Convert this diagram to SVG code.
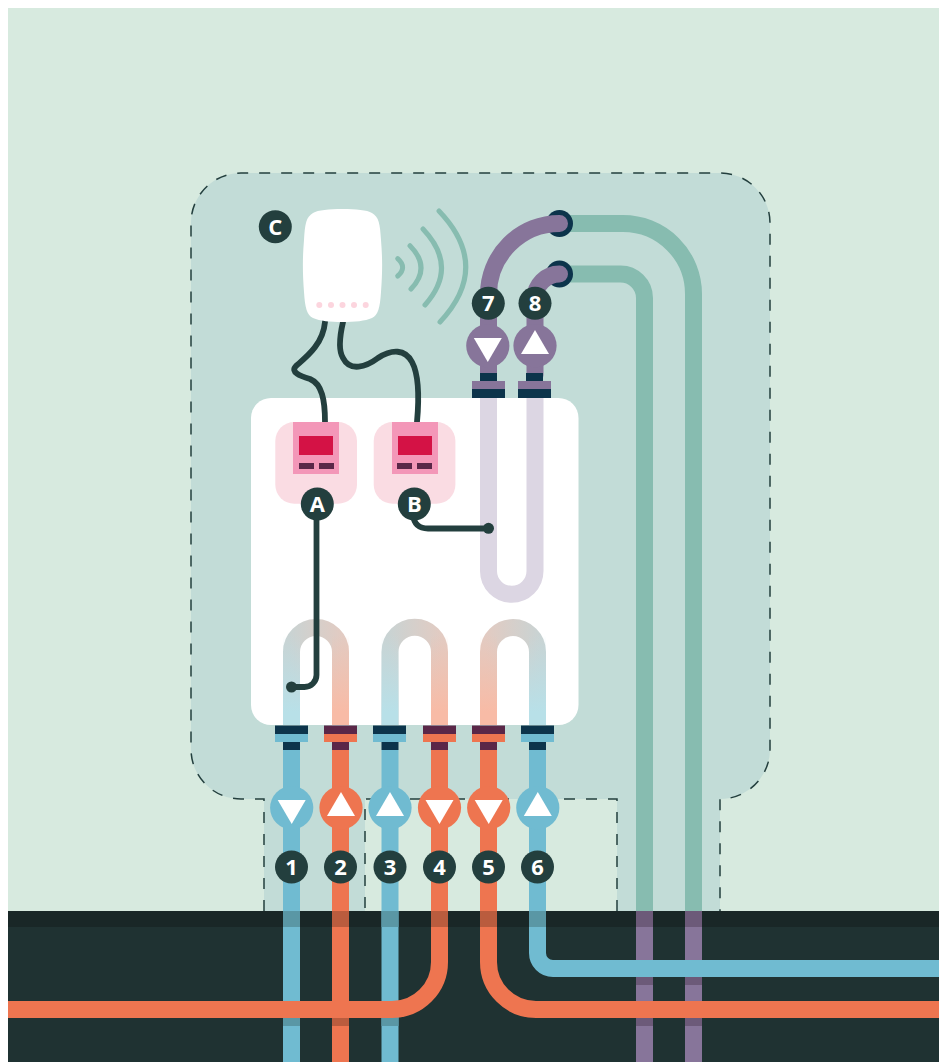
<svg xmlns="http://www.w3.org/2000/svg" width="939" height="1062" viewBox="0 0 939 1062">
<style>
.p{fill:none;stroke-width:17}
.blue{stroke:#70bbd1}.org{stroke:#ee7550}.pur{stroke:#87759a}.grn{stroke:#87bcb0}
.fb{fill:#70bbd1}.fo{fill:#ee7550}.fp{fill:#87759a}
.nb{fill:#0c344b}.no{fill:#5a2748}
.tri{fill:#fff}
.bd{fill:#233f3e}
.bt{fill:#fff;font-family:"Open Sans","Noto Sans",sans-serif;font-weight:700;font-size:22px;text-anchor:middle}
.wire{fill:none;stroke:#233f3e;stroke-width:5.800;stroke-linecap:round}
.wave{fill:none;stroke:#87bcb0;stroke-width:5;stroke-linecap:round}
.s1{fill:#fadce3}.s2{fill:#f397b8}.s3{fill:#d41245}
</style>
<defs>
<linearGradient id="fb" gradientUnits="userSpaceOnUse" x1="0" y1="725" x2="0" y2="635"><stop offset="0.15" stop-color="#b8e0e8"/><stop offset="1" stop-color="#b8e0e8" stop-opacity="0"/></linearGradient>
<linearGradient id="fo" gradientUnits="userSpaceOnUse" x1="0" y1="725" x2="0" y2="635"><stop offset="0.15" stop-color="#f8bba6"/><stop offset="1" stop-color="#f8bba6" stop-opacity="0"/></linearGradient>
<linearGradient id="u1" gradientUnits="userSpaceOnUse" x1="283" y1="0" x2="349" y2="0"><stop offset="0.1" stop-color="#c9d3d3"/><stop offset="0.9" stop-color="#e2cbc2"/></linearGradient>
<linearGradient id="u2" gradientUnits="userSpaceOnUse" x1="381.500" y1="0" x2="448" y2="0"><stop offset="0.1" stop-color="#c9d3d3"/><stop offset="0.9" stop-color="#e2cbc2"/></linearGradient>
<linearGradient id="u3" gradientUnits="userSpaceOnUse" x1="480" y1="0" x2="546" y2="0"><stop offset="0.1" stop-color="#e2cbc2"/><stop offset="0.9" stop-color="#c9d3d3"/></linearGradient>
</defs>

<g id="background">
<rect x="8" y="8" width="931" height="903" fill="#d7eadf"/>
<path d="M264 911V799H241A50 50 0 0 1 191 749V223A50 50 0 0 1 241 173H720A50 50 0 0 1 770 223V749A50 50 0 0 1 720 799V911H617V799H365V911Z" fill="#c2dcd7"/>
<path d="M264 911V799H241A50 50 0 0 1 191 749V223A50 50 0 0 1 241 173H720A50 50 0 0 1 770 223V749A50 50 0 0 1 720 799V911M617 911V799H365V911" fill="none" stroke="#233f3e" stroke-width="1.500" stroke-dasharray="11 11"/>
<rect x="8" y="911" width="931" height="151" fill="#1f3232"/>
<rect x="8" y="911" width="931" height="16" fill="#192727"/>
<rect x="251" y="398" width="327.500" height="327" rx="20" fill="#fff"/>
</g>

<g id="connectors">
<path class="p grn" d="M559 223.500H623A70.500 70.500 0 0 1 693.500 294V911"/>
<path class="p grn" d="M559 274H620A24 24 0 0 1 644.500 298V911"/>
<g id="ground-vertical">
<path class="p pur" d="M644.500 911V1062M693.500 911V1062"/>
<path class="p blue" d="M291.500 750V1062M390 750V1062"/>
<path class="p org" d="M340.500 750V1062"/>
<g fill="#6c5a79"><rect x="636" y="911" width="17" height="16"/><rect x="685" y="911" width="17" height="16"/><rect x="636" y="976" width="17" height="9"/><rect x="685" y="976" width="17" height="9"/><rect x="636" y="1017" width="17" height="9"/><rect x="685" y="1017" width="17" height="9"/></g>
<g fill="#5a97a5"><rect x="283" y="911" width="17" height="16"/><rect x="381.500" y="911" width="17" height="16"/><rect x="283" y="1017" width="17" height="9"/><rect x="381.500" y="1017" width="17" height="9"/></g>
<g fill="#ba5c3e"><rect x="332" y="911" width="17" height="16"/><rect x="332" y="1017" width="17" height="9"/></g>
</g>
<path class="p blue" d="M537.500 750V911M537.500 927V953A15.500 15.500 0 0 0 553 968.500H939"/>
<path class="p org" d="M439.500 750V911M439.500 927V962A47.500 47.500 0 0 1 392 1009.500H8"/>
<path class="p org" d="M488.500 750V911M488.500 927V962A47.500 47.500 0 0 0 536 1009.500H939"/>
<rect x="529" y="911" width="17" height="16" fill="#5a97a5"/>
<rect x="431" y="911" width="17" height="16" fill="#ba5c3e"/>
<rect x="480" y="911" width="17" height="16" fill="#ba5c3e"/>

<g id="coils">
<path class="p" stroke="url(#u1)" d="M291.500 725V652A24.500 24.500 0 0 1 340.500 652V725"/>
<path class="p" stroke="url(#fb)" d="M291.500 725V636"/>
<path class="p" stroke="url(#fo)" d="M340.500 725V636"/>
<path class="p" stroke="url(#u2)" d="M390 725V652A24.750 24.750 0 0 1 439.500 652V725"/>
<path class="p" stroke="url(#fb)" d="M390 725V636"/>
<path class="p" stroke="url(#fo)" d="M439.500 725V636"/>
<path class="p" stroke="url(#u3)" d="M488.500 725V652A24.500 24.500 0 0 1 537.500 652V725"/>
<path class="p" stroke="url(#fo)" d="M488.500 725V636"/>
<path class="p" stroke="url(#fb)" d="M537.500 725V636"/>
<path class="p" stroke="#dcd6e3" d="M488.500 398V571A23.250 23.250 0 0 0 535 571V398"/>
</g>

<circle cx="559.500" cy="223.500" r="13.500" class="nb"/>
<circle cx="559.500" cy="274" r="13.500" class="nb"/>
<path class="p pur" stroke-linecap="round" d="M559.500 223.500A71 71 0 0 0 488.500 294.500V375"/>
<path class="p pur" stroke-linecap="round" d="M559.500 274A24.500 24.500 0 0 0 535 298.500V375"/>

<path class="wire" d="M325 322C323 345 305 358 296 366C290 372 300 376 310 379C322 384 325 400 325 422"/>
<path class="wire" d="M343 322C340 335 338 350 343 358C350 372 366 367 378 358C392 349 405 349 412 362C419 375 419 400 417 422"/>
<path class="wire" d="M316.500 504V675A12 12 0 0 1 304.500 687H291.500"/>
<path class="wire" d="M413 515C414 524 419 528.500 428 528.500H488.500"/>
<circle cx="291.500" cy="687" r="5.500" class="bd"/>
<circle cx="488.500" cy="528.300" r="5.500" class="bd"/>
</g>

<g id="node-1">
<rect x="283" y="742" width="17" height="8" class="nb"/><rect x="275" y="725.500" width="33" height="8.500" class="nb"/><rect x="275" y="734" width="33" height="8" class="fb"/>
<circle cx="291.700" cy="807.700" r="21.600" class="fb"/><path class="tri" d="M277.700 800H305.700L291.700 824Z"/>
<circle cx="291.500" cy="867" r="16.500" class="bd"/><text x="291.500" y="874.800" class="bt">1</text>
</g>
<g id="node-2">
<rect x="332" y="742" width="17" height="8" class="no"/><rect x="324" y="725.500" width="33" height="8.500" class="no"/><rect x="324" y="734" width="33" height="8" class="fo"/>
<circle cx="341" cy="807.700" r="21.600" class="fo"/><path class="tri" d="M327 816H355L341 792Z"/>
<circle cx="340.500" cy="867" r="16.500" class="bd"/><text x="340.500" y="874.800" class="bt">2</text>
</g>
<g id="node-3">
<rect x="381.500" y="742" width="17" height="8" class="nb"/><rect x="373" y="725.500" width="33" height="8.500" class="nb"/><rect x="373" y="734" width="33" height="8" class="fb"/>
<circle cx="390" cy="807.700" r="21.600" class="fb"/><path class="tri" d="M376 816H404L390 792Z"/>
<circle cx="390" cy="867" r="16.500" class="bd"/><text x="390" y="874.800" class="bt">3</text>
</g>
<g id="node-4">
<rect x="431" y="742" width="17" height="8" class="no"/><rect x="423" y="725.500" width="33" height="8.500" class="no"/><rect x="423" y="734" width="33" height="8" class="fo"/>
<circle cx="439.500" cy="807.700" r="21.600" class="fo"/><path class="tri" d="M425.500 800H453.500L439.500 824Z"/>
<circle cx="439.500" cy="867" r="16.500" class="bd"/><text x="439.500" y="874.800" class="bt">4</text>
</g>
<g id="node-5">
<rect x="480" y="742" width="17" height="8" class="no"/><rect x="472" y="725.500" width="33" height="8.500" class="no"/><rect x="472" y="734" width="33" height="8" class="fo"/>
<circle cx="488.700" cy="807.700" r="21.600" class="fo"/><path class="tri" d="M474.700 800H502.700L488.700 824Z"/>
<circle cx="488.500" cy="867" r="16.500" class="bd"/><text x="488.500" y="874.800" class="bt">5</text>
</g>
<g id="node-6">
<rect x="529" y="742" width="17" height="8" class="nb"/><rect x="521" y="725.500" width="33" height="8.500" class="nb"/><rect x="521" y="734" width="33" height="8" class="fb"/>
<circle cx="537.800" cy="807.700" r="21.600" class="fb"/><path class="tri" d="M523.800 816H551.800L537.800 792Z"/>
<circle cx="537.500" cy="867" r="16.500" class="bd"/><text x="537.500" y="874.800" class="bt">6</text>
</g>
<g id="node-7">
<rect x="480" y="373" width="17" height="8" class="nb"/><rect x="472" y="381" width="33" height="8" class="fp"/><rect x="472" y="389" width="33" height="9" class="nb"/>
<circle cx="487.800" cy="345.700" r="21.600" class="fp"/><path class="tri" d="M473.800 338H501.800L487.800 362Z"/>
<circle cx="488.300" cy="303.300" r="16.500" class="bd"/><text x="488.300" y="311.100" class="bt">7</text>
</g>
<g id="node-8">
<rect x="526" y="373" width="17" height="8" class="nb"/><rect x="518" y="381" width="33" height="8" class="fp"/><rect x="518" y="389" width="33" height="9" class="nb"/>
<circle cx="535" cy="345.700" r="21.600" class="fp"/><path class="tri" d="M521 354H549L535 330Z"/>
<circle cx="535" cy="303.300" r="16.500" class="bd"/><text x="535" y="311.100" class="bt">8</text>
</g>

<g id="node-A">
<rect x="275.300" y="422" width="81.700" height="81.700" rx="19" class="s1"/>
<rect x="293" y="422" width="46" height="52" class="s2"/><rect x="299" y="436" width="34" height="19" class="s3"/>
<rect x="299" y="463" width="15" height="6" class="no"/><rect x="319" y="463" width="15" height="6" class="no"/>
<circle cx="317.300" cy="504" r="16.500" class="bd"/><text x="317.300" y="511.800" class="bt">A</text>
</g>
<g id="node-B">
<rect x="373.700" y="422" width="81.700" height="81.700" rx="19" class="s1"/>
<rect x="392" y="422" width="46" height="52" class="s2"/><rect x="398" y="436" width="34" height="19" class="s3"/>
<rect x="397" y="463" width="15" height="6" class="no"/><rect x="417" y="463" width="15" height="6" class="no"/>
<circle cx="414.300" cy="504" r="16.500" class="bd"/><text x="414.300" y="511.800" class="bt">B</text>
</g>
<g id="node-C">
<circle cx="275.300" cy="226.700" r="16.500" class="bd"/><text x="275.300" y="234.500" class="bt">C</text>
<path d="M342.500 209C356 209 367 210 372 213C379 217 380 224 381 240C382.500 258 382.500 272 381 292C380 308 378 315 372 318C365 321 355 322 342.500 322C330 322 320 321 313 318C307 315 305 308 304 292C302.500 272 302.500 258 304 240C305 224 306 217 313 213C318 210 329 209 342.500 209Z" fill="#fff"/>
<g fill="#fcd5de"><circle cx="319.300" cy="305" r="3"/><circle cx="331" cy="305" r="3"/><circle cx="342.500" cy="305" r="3"/><circle cx="354" cy="305" r="3"/><circle cx="365.700" cy="305" r="3"/></g>
<path class="wave" d="M397.700 258.700Q407.500 267.500 397.700 276"/>
<path class="wave" d="M410 245.700Q431.500 267.500 411 289"/>
<path class="wave" d="M423 229Q459 267 425 305"/>
<path class="wave" d="M439 211Q492 266.500 440 322"/>
</g>
</svg>
